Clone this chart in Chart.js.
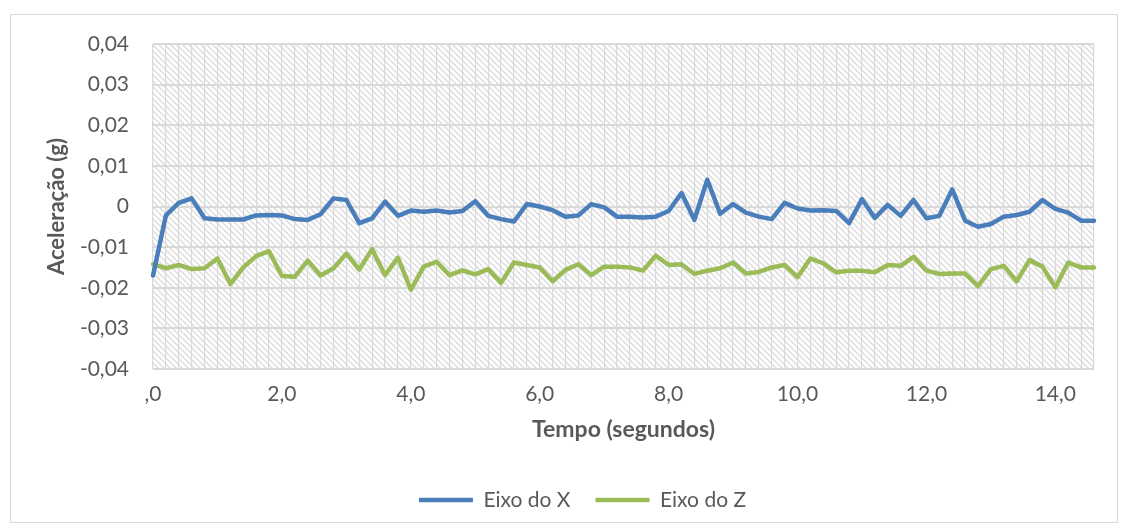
<!DOCTYPE html>
<html lang="pt">
<head>
<meta charset="utf-8">
<title>Aceleração — Eixo do X e Eixo do Z</title>
<script src="https://cdn.jsdelivr.net/npm/chart.js@4.4.1/dist/chart.umd.min.js"></script>
<style>
  html, body { margin: 0; padding: 0; background: #ffffff; }
  #wrap { position: relative; width: 1131px; height: 531px; }
</style>
</head>
<body>
<div id="wrap"><canvas id="chart"></canvas></div>
<script>
// Time stamps (seconds), one sample every 0.2 s
const tempo = [
  0.0, 0.2, 0.4, 0.6, 0.8, 1.0, 1.2, 1.4, 1.6, 1.8,
  2.0, 2.2, 2.4, 2.6, 2.8, 3.0, 3.2, 3.4, 3.6, 3.8,
  4.0, 4.2, 4.4, 4.6, 4.8, 5.0, 5.2, 5.4, 5.6, 5.8,
  6.0, 6.2, 6.4, 6.6, 6.8, 7.0, 7.2, 7.4, 7.6, 7.8,
  8.0, 8.2, 8.4, 8.6, 8.8, 9.0, 9.2, 9.4, 9.6, 9.8,
  10.0, 10.2, 10.4, 10.6, 10.8, 11.0, 11.2, 11.4, 11.6, 11.8,
  12.0, 12.2, 12.4, 12.6, 12.8, 13.0, 13.2, 13.4, 13.6, 13.8,
  14.0, 14.2, 14.4, 14.6
];

// Acceleration along X (g)
const eixoX = [
  -0.0170, -0.0022, 0.0009, 0.0020, -0.0029, -0.0032, -0.0032, -0.0032, -0.0022, -0.0021,
  -0.0022, -0.0031, -0.0033, -0.0019, 0.0020, 0.0016, -0.0041, -0.0029, 0.0012, -0.0023,
  -0.0010, -0.0013, -0.0010, -0.0015, -0.0011, 0.0013, -0.0023, -0.0031, -0.0037, 0.0006,
  0.0000, -0.0009, -0.0025, -0.0022, 0.0006, -0.0002, -0.0025, -0.0025, -0.0027, -0.0025,
  -0.0011, 0.0033, -0.0033, 0.0066, -0.0018, 0.0006, -0.0015, -0.0025, -0.0031, 0.0009,
  -0.0005, -0.0010, -0.0009, -0.0011, -0.0041, 0.0018, -0.0028, 0.0004, -0.0023, 0.0016,
  -0.0029, -0.0023, 0.0042, -0.0035, -0.0050, -0.0043, -0.0025, -0.0021, -0.0013, 0.0016,
  -0.0006, -0.0015, -0.0035, -0.0035
];

// Acceleration along Z (g)
const eixoZ = [
  -0.0142, -0.0152, -0.0144, -0.0154, -0.0152, -0.0128, -0.0191, -0.0150, -0.0122, -0.0110,
  -0.0171, -0.0173, -0.0133, -0.0170, -0.0152, -0.0116, -0.0155, -0.0105, -0.0169, -0.0126,
  -0.0205, -0.0148, -0.0136, -0.0169, -0.0157, -0.0167, -0.0154, -0.0188, -0.0138, -0.0144,
  -0.0150, -0.0184, -0.0156, -0.0142, -0.0169, -0.0148, -0.0148, -0.0150, -0.0158, -0.0121,
  -0.0144, -0.0142, -0.0166, -0.0158, -0.0152, -0.0138, -0.0165, -0.0161, -0.0150, -0.0144,
  -0.0174, -0.0128, -0.0140, -0.0162, -0.0158, -0.0158, -0.0162, -0.0144, -0.0146, -0.0124,
  -0.0158, -0.0166, -0.0165, -0.0165, -0.0196, -0.0154, -0.0146, -0.0184, -0.0132, -0.0148,
  -0.0199, -0.0138, -0.0150, -0.0150
];

const FONT = 'Lato, "Open Sans", "DejaVu Sans", sans-serif';
const TEXT = '#595959';
const GRID = '#d9d9d9';

// Portuguese decimal comma; Excel-style "#,0" drops the leading zero
function fmtTempo(t) {
  let s = t.toFixed(1).replace('.', ',');
  if (s.startsWith('0,')) s = s.slice(1);
  return s;
}
function fmtAcel(v) {
  if (Math.abs(v) < 1e-9) return '0';
  return v.toFixed(2).replace('.', ',');
}

// Light diagonal hatch used as the plot-area fill
function makeHatch() {
  const tile = document.createElement('canvas');
  tile.width = 6; tile.height = 6;
  const t = tile.getContext('2d');
  t.fillStyle = '#ffffff';
  t.fillRect(0, 0, 6, 6);
  t.strokeStyle = '#dddddd';
  t.lineWidth = 1.5;
  t.beginPath();
  t.moveTo(-1, -1); t.lineTo(7, 7);
  t.moveTo(-1, 5); t.lineTo(1, 7);
  t.moveTo(5, -1); t.lineTo(7, 1);
  t.stroke();
  return tile;
}
const hatchTile = makeHatch();

const backdrop = {
  id: 'backdrop',
  beforeDraw(chart) {
    const { ctx, chartArea: a } = chart;
    ctx.save();
    ctx.fillStyle = '#ffffff';
    ctx.fillRect(0, 0, chart.width, chart.height);
    ctx.strokeStyle = '#d9d9d9';
    ctx.lineWidth = 1;
    ctx.strokeRect(10.5, 14.5, 1107, 508);
    ctx.fillStyle = ctx.createPattern(hatchTile, 'repeat');
    ctx.fillRect(a.left, a.top, a.right - a.left, a.bottom - a.top);
    ctx.restore();
  }
};

new Chart(document.getElementById('chart'), {
  type: 'line',
  data: {
    labels: tempo,
    datasets: [
      {
        label: 'Eixo do X',
        data: eixoX,
        borderColor: '#4a7ebb',
        backgroundColor: '#4a7ebb',
        borderWidth: 4.5,
        borderJoinStyle: 'round',
        borderCapStyle: 'round',
        pointRadius: 0,
        tension: 0,
        fill: false
      },
      {
        label: 'Eixo do Z',
        data: eixoZ,
        borderColor: '#9bbb59',
        backgroundColor: '#9bbb59',
        borderWidth: 4.5,
        borderJoinStyle: 'round',
        borderCapStyle: 'round',
        pointRadius: 0,
        tension: 0,
        fill: false
      }
    ]
  },
  options: {
    responsive: true,
    maintainAspectRatio: false,
    animation: false,
    events: [],
    layout: { padding: { left: 34, right: 0, top: 44, bottom: 10.5 } },
    plugins: {
      tooltip: { enabled: false },
      legend: {
        position: 'bottom',
        align: 'center',
        labels: {
          usePointStyle: true,
          pointStyle: 'line',
          pointStyleWidth: 54,
          boxHeight: 21,
          padding: 25,
          color: TEXT,
          font: { family: FONT, size: 21 }
        }
      }
    },
    scales: {
      x: {
        type: 'category',
        offset: false,
        grid: { display: true, color: GRID, lineWidth: 1.2, drawTicks: false, offset: false },
        border: { display: false },
        ticks: {
          autoSkip: false,
          maxRotation: 0,
          minRotation: 0,
          padding: 12.4,
          color: TEXT,
          font: { family: FONT, size: 21 },
          callback: (val, idx) => (idx % 10 === 0 ? fmtTempo(tempo[idx]) : '')
        },
        title: {
          display: true,
          text: 'Tempo (segundos)',
          color: TEXT,
          font: { family: FONT, size: 23, weight: 'bold' },
          padding: { top: 0, bottom: 21 }
        },
        afterFit: s => { s.height = 95.5; }
      },
      y: {
        position: 'left',
        min: -0.04,
        max: 0.04,
        grid: { color: GRID, lineWidth: 2, drawTicks: false },
        border: { display: false },
        ticks: {
          stepSize: 0.01,
          padding: 24,
          color: TEXT,
          font: { family: FONT, size: 21 },
          callback: v => fmtAcel(v)
        },
        title: {
          display: true,
          text: 'Aceleração (g)',
          color: TEXT,
          font: { family: FONT, size: 22, weight: 'bold' },
          padding: { top: 9.8, bottom: 0 }
        },
        afterFit: s => { s.width = 119; }
      },
      yRight: {
        position: 'right',
        display: true,
        min: -0.04,
        max: 0.04,
        grid: { display: false, drawTicks: false },
        border: { display: false },
        ticks: { display: false },
        afterFit: s => { s.width = 37; }
      }
    }
  },
  plugins: [backdrop]
});
</script>
</body>
</html>
